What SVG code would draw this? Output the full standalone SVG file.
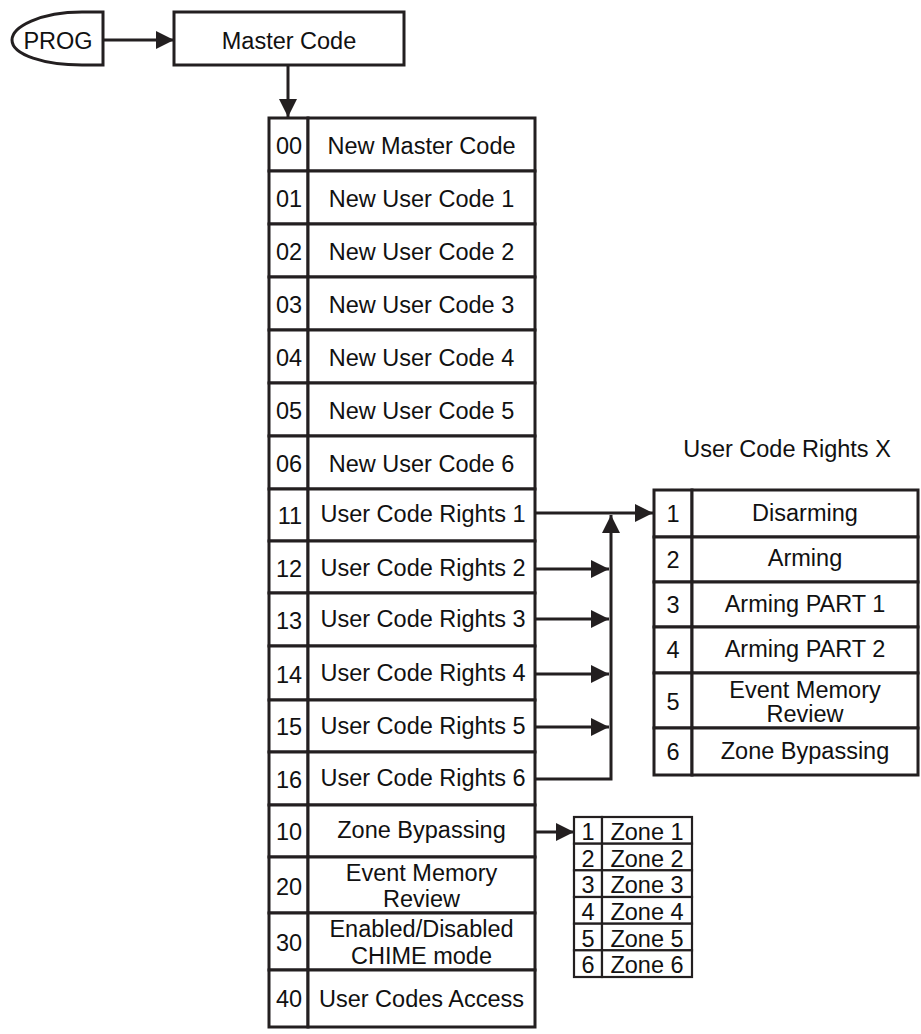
<svg xmlns="http://www.w3.org/2000/svg" width="921" height="1034" viewBox="0 0 921 1034">
<defs>
<marker id="ah" markerUnits="userSpaceOnUse" markerWidth="18" markerHeight="18" refX="18" refY="9" orient="auto" viewBox="0 0 18 18">
<path d="M0,0 L18,9 L0,18 Z" fill="#231f20"/>
</marker>
<style>
.c{fill:#fff;stroke:#231f20;stroke-width:3}
.z{fill:#fff;stroke:#231f20;stroke-width:2.2}
.t{font-family:"Liberation Sans",Arial,sans-serif;font-size:23.5px;fill:#111;text-anchor:middle}
.w{fill:none;stroke:#231f20;stroke-width:3}
</style>
</defs>
<rect width="921" height="1034" fill="#fff"/>

<g id="prog">
<path class="c" d="M103,12 H82 C40,12 12,27 12,40 C12,55 45,65 82,65 H103 Z"/>
<text class="t" x="58" y="49">PROG</text>
</g>
<g id="master-code">
<rect class="c" x="174" y="12" width="230" height="53"/>
<text class="t" x="289" y="49">Master Code</text>
</g>

<g id="menu">
<g id="r00"><rect class="c" x="269" y="118" width="39" height="53"/><rect class="c" x="308" y="118" width="227" height="53"/><text class="t" x="289" y="153.5">00</text><text class="t" x="421.5" y="153.5">New Master Code</text></g>
<g id="r01"><rect class="c" x="269" y="171" width="39" height="53"/><rect class="c" x="308" y="171" width="227" height="53"/><text class="t" x="289" y="206.5">01</text><text class="t" x="421.5" y="206.5">New User Code 1</text></g>
<g id="r02"><rect class="c" x="269" y="224" width="39" height="53"/><rect class="c" x="308" y="224" width="227" height="53"/><text class="t" x="289" y="259.5">02</text><text class="t" x="421.5" y="259.5">New User Code 2</text></g>
<g id="r03"><rect class="c" x="269" y="277" width="39" height="53"/><rect class="c" x="308" y="277" width="227" height="53"/><text class="t" x="289" y="312.5">03</text><text class="t" x="421.5" y="312.5">New User Code 3</text></g>
<g id="r04"><rect class="c" x="269" y="330" width="39" height="53"/><rect class="c" x="308" y="330" width="227" height="53"/><text class="t" x="289" y="365.5">04</text><text class="t" x="421.5" y="365.5">New User Code 4</text></g>
<g id="r05"><rect class="c" x="269" y="383" width="39" height="53"/><rect class="c" x="308" y="383" width="227" height="53"/><text class="t" x="289" y="418.5">05</text><text class="t" x="421.5" y="418.5">New User Code 5</text></g>
<g id="r06"><rect class="c" x="269" y="436" width="39" height="53"/><rect class="c" x="308" y="436" width="227" height="53"/><text class="t" x="289" y="471.5">06</text><text class="t" x="421.5" y="471.5">New User Code 6</text></g>
<g id="r11"><rect class="c" x="269" y="489" width="39" height="52"/><rect class="c" x="308" y="489" width="227" height="52"/><text class="t" x="290" y="524">11</text><text class="t" x="423" y="522">User Code Rights 1</text></g>
<g id="r12"><rect class="c" x="269" y="541" width="39" height="52"/><rect class="c" x="308" y="541" width="227" height="52"/><text class="t" x="289" y="577">12</text><text class="t" x="423" y="576">User Code Rights 2</text></g>
<g id="r13"><rect class="c" x="269" y="593" width="39" height="53"/><rect class="c" x="308" y="593" width="227" height="53"/><text class="t" x="289" y="629">13</text><text class="t" x="423" y="627">User Code Rights 3</text></g>
<g id="r14"><rect class="c" x="269" y="646" width="39" height="54"/><rect class="c" x="308" y="646" width="227" height="54"/><text class="t" x="289" y="683">14</text><text class="t" x="423" y="681">User Code Rights 4</text></g>
<g id="r15"><rect class="c" x="269" y="700" width="39" height="52"/><rect class="c" x="308" y="700" width="227" height="52"/><text class="t" x="289" y="735">15</text><text class="t" x="423" y="734">User Code Rights 5</text></g>
<g id="r16"><rect class="c" x="269" y="752" width="39" height="53"/><rect class="c" x="308" y="752" width="227" height="53"/><text class="t" x="289" y="788">16</text><text class="t" x="423" y="786">User Code Rights 6</text></g>
<g id="r10"><rect class="c" x="269" y="805" width="39" height="52"/><rect class="c" x="308" y="805" width="227" height="52"/><text class="t" x="289" y="840">10</text><text class="t" x="421.5" y="838">Zone Bypassing</text></g>
<g id="r20"><rect class="c" x="269" y="857" width="39" height="56"/><rect class="c" x="308" y="857" width="227" height="56"/><text class="t" x="289" y="895">20</text><text class="t" x="421.5" y="881">Event Memory</text><text class="t" x="421.5" y="907">Review</text></g>
<g id="r30"><rect class="c" x="269" y="913" width="39" height="57"/><rect class="c" x="308" y="913" width="227" height="57"/><text class="t" x="289" y="951">30</text><text class="t" x="421.5" y="937">Enabled/Disabled</text><text class="t" x="421.5" y="964">CHIME mode</text></g>
<g id="r40"><rect class="c" x="269" y="970" width="39" height="57"/><rect class="c" x="308" y="970" width="227" height="57"/><text class="t" x="289" y="1007">40</text><text class="t" x="421.5" y="1007">User Codes Access</text></g>
</g>

<g id="rights">
<text class="t" x="787" y="457">User Code Rights X</text>
<g id="x1"><rect class="c" x="654" y="490" width="38" height="47"/><rect class="c" x="692" y="490" width="226" height="47"/><text class="t" x="673" y="522">1</text><text class="t" x="805" y="521">Disarming</text></g>
<g id="x2"><rect class="c" x="654" y="537" width="38" height="45"/><rect class="c" x="692" y="537" width="226" height="45"/><text class="t" x="673" y="568">2</text><text class="t" x="805" y="566">Arming</text></g>
<g id="x3"><rect class="c" x="654" y="582" width="38" height="45"/><rect class="c" x="692" y="582" width="226" height="45"/><text class="t" x="673" y="613">3</text><text class="t" x="805" y="612">Arming PART 1</text></g>
<g id="x4"><rect class="c" x="654" y="627" width="38" height="46"/><rect class="c" x="692" y="627" width="226" height="46"/><text class="t" x="673" y="658">4</text><text class="t" x="805" y="657">Arming PART 2</text></g>
<g id="x5"><rect class="c" x="654" y="673" width="38" height="55"/><rect class="c" x="692" y="673" width="226" height="55"/><text class="t" x="673" y="710">5</text><text class="t" x="805" y="698">Event Memory</text><text class="t" x="805" y="722">Review</text></g>
<g id="x6"><rect class="c" x="654" y="728" width="38" height="47"/><rect class="c" x="692" y="728" width="226" height="47"/><text class="t" x="673" y="760">6</text><text class="t" x="805" y="759">Zone Bypassing</text></g>
</g>

<g id="zones">
<g id="z1"><rect class="z" x="574" y="817" width="28" height="26.7"/><rect class="z" x="602" y="817" width="90" height="26.7"/><text class="t" x="588" y="840">1</text><text class="t" x="647" y="840">Zone 1</text></g>
<g id="z2"><rect class="z" x="574" y="843.7" width="28" height="26.7"/><rect class="z" x="602" y="843.7" width="90" height="26.7"/><text class="t" x="588" y="866.7">2</text><text class="t" x="647" y="866.7">Zone 2</text></g>
<g id="z3"><rect class="z" x="574" y="870.3" width="28" height="26.7"/><rect class="z" x="602" y="870.3" width="90" height="26.7"/><text class="t" x="588" y="893.3">3</text><text class="t" x="647" y="893.3">Zone 3</text></g>
<g id="z4"><rect class="z" x="574" y="897" width="28" height="26.7"/><rect class="z" x="602" y="897" width="90" height="26.7"/><text class="t" x="588" y="920">4</text><text class="t" x="647" y="920">Zone 4</text></g>
<g id="z5"><rect class="z" x="574" y="923.7" width="28" height="26.7"/><rect class="z" x="602" y="923.7" width="90" height="26.7"/><text class="t" x="588" y="946.7">5</text><text class="t" x="647" y="946.7">Zone 5</text></g>
<g id="z6"><rect class="z" x="574" y="950.3" width="28" height="26.7"/><rect class="z" x="602" y="950.3" width="90" height="26.7"/><text class="t" x="588" y="973.3">6</text><text class="t" x="647" y="973.3">Zone 6</text></g>
</g>

<g id="connectors">
<line class="w" x1="103" y1="40" x2="174" y2="40" marker-end="url(#ah)"/>
<line class="w" x1="288" y1="65" x2="288" y2="117" marker-end="url(#ah)"/>
<line class="w" x1="535" y1="513" x2="653" y2="513" marker-end="url(#ah)"/>
<polyline class="w" points="535,779 611,779 611,515" marker-end="url(#ah)"/>
<line class="w" x1="535" y1="569" x2="609" y2="569" marker-end="url(#ah)"/>
<line class="w" x1="535" y1="619" x2="609" y2="619" marker-end="url(#ah)"/>
<line class="w" x1="535" y1="674" x2="609" y2="674" marker-end="url(#ah)"/>
<line class="w" x1="535" y1="727" x2="609" y2="727" marker-end="url(#ah)"/>
<line class="w" x1="535" y1="832" x2="574" y2="832" marker-end="url(#ah)"/>
</g>
</svg>
